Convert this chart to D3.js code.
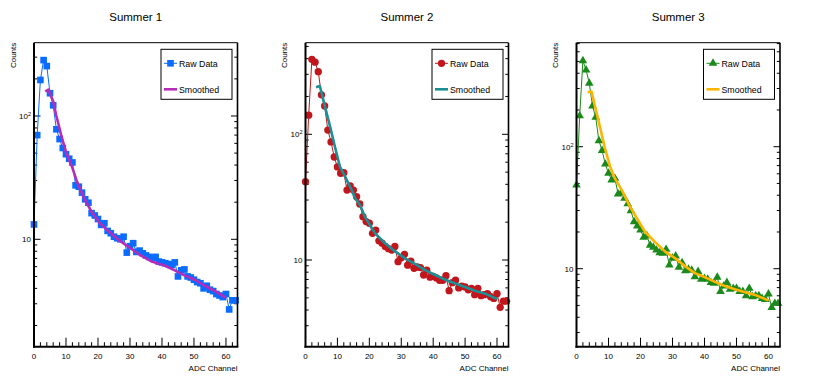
<!DOCTYPE html>
<html>
<head>
<meta charset="utf-8">
<script src="https://cdn.jsdelivr.net/npm/d3@7/dist/d3.min.js"></script>
<style>
body { margin: 0; background: #fff; }
text { font-family: "Liberation Sans", Arial, Helvetica, sans-serif; fill: #000; }
</style>
</head>
<body>
<svg width="814" height="389"></svg>
<script>
// ADC channels 0..63
var channels = d3.range(0, 64);

var raw1 = [13.2, 70, 196, 284, 254, 153, 122, 78, 65, 55,
  49, 45, 42, 27.4, 26.7, 23.9, 21.1, 19.8, 16.3, 15.6,
  14.6, 13.1, 13.5, 11.7, 11.2, 10.5, 10.2, 10.0, 10.5, 7.8,
  8.8, 9.3, 7.9, 8.1, 7.7, 7.4, 7.2, 7.1, 7.2, 6.6,
  6.5, 6.4, 6.3, 6.2, 6.5, 5.0, 5.6, 5.7, 5.0, 4.9,
  4.7, 4.5, 4.4, 4.0, 4.2, 3.9, 3.8, 3.6, 3.5, 3.4,
  3.6, 2.7, 3.2, 3.2];

var raw2 = [42, 142, 395, 375, 315, 206, 168, 108, 87, 66,
  55, 49, 49.5, 36, 38.8, 36, 31.9, 27.9, 22.1, 20.2,
  19.6, 16.3, 17.3, 14.2, 13.6, 12.8, 12.3, 12.0, 12.8, 9.7,
  10.4, 11.1, 9.1, 9.8, 8.6, 8.8, 8.7, 7.6, 8.3, 7.3,
  7.4, 7.2, 6.9, 6.9, 7.5, 5.7, 6.6, 6.9, 6.0, 6.2,
  6.1, 5.8, 5.95, 5.3, 5.95, 5.2, 5.3, 5.4, 5.1, 4.95,
  5.4, 4.2, 4.7, 4.7];

var raw3 = [48.5, 179, 507, 425, 331, 216, 174, 112, 93, 72,
  60.5, 53.3, 55, 41, 42, 37.8, 34, 29.9, 24.3, 22.4,
  20.8, 18.1, 18.6, 15.6, 15.0, 14.2, 13.5, 13.4, 14.4, 10.7,
  12.2, 12.7, 10.3, 11.2, 9.6, 9.9, 9.7, 8.6, 9.5, 8.2,
  8.3, 8.2, 7.7, 7.6, 8.5, 6.5, 7.2, 7.7, 6.8, 6.9,
  6.9, 6.5, 6.5, 6.0, 6.9, 5.9, 6.0, 6.0, 5.7, 5.6,
  6.2, 4.8, 5.2, 5.2];

var smoothX1 = [3.5, 4.5, 6, 7, 8.5, 10, 12, 13.5, 15.5, 18, 20.6, 23.2, 26.4, 29.5, 33, 36.8, 41, 44, 47, 50.3, 53.4, 56.6, 60];
var smooth1  = [158, 164, 131, 100, 70, 51, 38, 29, 22, 16.7, 13.5, 11.7, 9.9, 8.7, 7.5, 6.6, 6.1, 5.6, 5.1, 4.7, 4.2, 3.8, 3.35];

var smoothX2 = [3.3, 4.5, 6.1, 7.7, 9.2, 10.8, 12.4, 14.5, 15.5, 17.1, 18.6, 21.8, 24.9, 28.1, 31.2, 34.3, 37.5, 40.6, 43.7, 46.9, 50, 53.1, 56.3, 60];
var smooth2  = [237, 242, 166, 115, 80, 55, 46, 36, 31, 27.4, 22.1, 16.3, 13.6, 11.7, 10.3, 9.3, 8.3, 7.6, 7.0, 6.5, 6.1, 5.7, 5.4, 4.9];

var smoothX3 = [3.5, 4.7, 5.8, 7.3, 8.9, 10.5, 12, 14.1, 15.2, 16.7, 18.3, 21.4, 24.5, 27.7, 30.8, 33.9, 37, 40.2, 43.3, 46.4, 49.5, 52.7, 55.8, 60];
var smooth3  = [279, 283, 213, 146, 97, 68.6, 55, 44.2, 38.9, 32.3, 27.5, 20.1, 16.6, 13.8, 12.2, 10.5, 9.2, 8.5, 7.8, 7.2, 6.8, 6.4, 6.1, 5.5];

var titles = ["Summer 1", "Summer 2", "Summer 3"];
var xTicks = [0, 10, 20, 30, 40, 50, 60];
var legendLabels = ["Raw Data", "Smoothed"];

var svg = d3.select("svg");
svg.append("rect").attr("width", 814).attr("height", 389).attr("fill", "#fff");

var frameTop = 42.7, frameBottom = 346.7;

var pads = [
  { left: 34, right: 237.5, yDom: [1.346, 393], raw: raw1, sx: smoothX1, sy: smooth1,
    rawColor: "#0a6cff", smoothColor: "#b42cb8", symbol: d3.symbolSquare, size: 44 },
  { left: 305.5, right: 508.5, yDom: [2.043, 535.5], raw: raw2, sx: smoothX2, sy: smooth2,
    rawColor: "#c0161c", smoothColor: "#1d8e93", symbol: d3.symbolCircle, size: 42 },
  { left: 576.5, right: 780, yDom: [2.295, 712], raw: raw3, sx: smoothX3, sy: smooth3,
    rawColor: "#1b8a1b", smoothColor: "#ffb400", symbol: d3.symbolTriangle, size: 32 }
];

pads.forEach(function (p, i) {
  var g = svg.append("g");
  var x = d3.scaleLinear().domain([0, 63.6]).range([p.left, p.right]);
  var y = d3.scaleLog().domain(p.yDom).range([frameBottom, frameTop]);

  // title
  g.append("text")
    .attr("x", (p.left + p.right) / 2).attr("y", 21)
    .attr("text-anchor", "middle").attr("font-size", 11.5)
    .text(titles[i]);

  // x ticks
  var minorX = d3.range(0, 64, 2).filter(function (d) { return d % 10 !== 0; });
  g.selectAll(".xmin").data(minorX).enter().append("line")
    .attr("x1", x).attr("x2", x)
    .attr("y1", frameBottom).attr("y2", frameBottom - 4.5)
    .attr("stroke", "#000").attr("stroke-width", 1);
  g.selectAll(".xmaj").data(xTicks).enter().append("line")
    .attr("x1", x).attr("x2", x)
    .attr("y1", frameBottom).attr("y2", frameBottom - 9)
    .attr("stroke", "#000").attr("stroke-width", 1);
  g.selectAll(".xlab").data(xTicks).enter().append("text")
    .attr("x", x).attr("y", 359)
    .attr("text-anchor", "middle").attr("font-size", 8)
    .text(function (d) { return d; });

  // y ticks (log)
  var yt = [];
  [1, 10, 100].forEach(function (dec) {
    for (var k = 1; k <= 9; k++) {
      var v = k * dec;
      if (v >= p.yDom[0] && v <= p.yDom[1]) yt.push({ v: v, major: k === 1 });
    }
  });
  [p.left, p.right].forEach(function (xx, side) {
    var dir = side === 0 ? 1 : -1;
    g.selectAll(".yt" + side).data(yt).enter().append("line")
      .attr("x1", xx).attr("x2", function (d) { return xx + dir * (d.major ? 6.5 : 3.2); })
      .attr("y1", function (d) { return y(d.v); }).attr("y2", function (d) { return y(d.v); })
      .attr("stroke", "#000").attr("stroke-width", 1);
  });
  var ylab = g.selectAll(".ylab").data(yt.filter(function (d) { return d.major; }))
    .enter().append("text")
    .attr("x", p.left - 3).attr("y", function (d) { return y(d.v) + 3; })
    .attr("text-anchor", "end").attr("font-size", 8);
  ylab.each(function (d) {
    var t = d3.select(this);
    t.append("tspan").text("10");
    if (d.v > 10) {
      t.append("tspan").attr("dy", -3).attr("font-size", 5.5).text(Math.round(Math.log10(d.v)));
    }
  });

  // axis titles
  g.append("text")
    .attr("transform", "translate(" + (p.left - 18.5) + "," + frameTop + ") rotate(-90)")
    .attr("text-anchor", "end").attr("font-size", 8)
    .text("Counts");
  g.append("text")
    .attr("x", p.right).attr("y", 371)
    .attr("text-anchor", "end").attr("font-size", 8)
    .text("ADC Channel");

  // raw data
  var pts = channels.map(function (c, j) { return [c, p.raw[j]]; });
  g.append("path").datum(pts)
    .attr("fill", "none").attr("stroke", p.rawColor).attr("stroke-width", 1)
    .attr("d", d3.line().x(function (d) { return x(d[0]); }).y(function (d) { return y(d[1]); }));
  g.selectAll(".mk").data(pts).enter().append("path")
    .attr("transform", function (d) { return "translate(" + x(d[0]) + "," + y(d[1]) + ")"; })
    .attr("d", d3.symbol().type(p.symbol).size(p.size))
    .attr("fill", p.rawColor);

  // smoothed
  var spts = p.sx.map(function (c, j) { return [c, p.sy[j]]; });
  g.append("path").datum(spts)
    .attr("fill", "none").attr("stroke", p.smoothColor).attr("stroke-width", 2.6)
    .attr("stroke-linejoin", "round")
    .attr("d", d3.line().x(function (d) { return x(d[0]); }).y(function (d) { return y(d[1]); }));

  // frame
  g.append("line").attr("x1", p.left).attr("x2", p.right).attr("y1", frameTop).attr("y2", frameTop)
    .attr("stroke", "#000").attr("stroke-width", 1);
  g.append("line").attr("x1", p.right).attr("x2", p.right).attr("y1", frameTop).attr("y2", frameBottom)
    .attr("stroke", "#000").attr("stroke-width", 1.6);
  g.append("line").attr("x1", p.left).attr("x2", p.left).attr("y1", frameTop).attr("y2", frameBottom + 1)
    .attr("stroke", "#000").attr("stroke-width", 2);
  g.append("line").attr("x1", p.left - 1).attr("x2", p.right + 0.8).attr("y1", frameBottom).attr("y2", frameBottom)
    .attr("stroke", "#000").attr("stroke-width", 2);

  // legend
  var lx = p.right - 76.5, ly = 49.3;
  var lg = g.append("g");
  lg.append("rect").attr("x", lx).attr("y", ly).attr("width", 71).attr("height", 50)
    .attr("fill", "#fff").attr("stroke", "#000").attr("stroke-width", 1);
  lg.append("line").attr("x1", lx + 3).attr("x2", lx + 16).attr("y1", 63.3).attr("y2", 63.3)
    .attr("stroke", p.rawColor).attr("stroke-width", 1);
  lg.append("path").attr("transform", "translate(" + (lx + 9.5) + ",63.3)")
    .attr("d", d3.symbol().type(p.symbol).size(p.size)).attr("fill", p.rawColor);
  lg.append("line").attr("x1", lx + 3).attr("x2", lx + 16).attr("y1", 89.3).attr("y2", 89.3)
    .attr("stroke", p.smoothColor).attr("stroke-width", 2.6);
  lg.selectAll(".lt").data(legendLabels).enter().append("text")
    .attr("x", lx + 18).attr("y", function (d, j) { return j === 0 ? 66.5 : 92.5; })
    .attr("font-size", 8.8)
    .text(function (d) { return d; });
});
</script>
</body>
</html>
